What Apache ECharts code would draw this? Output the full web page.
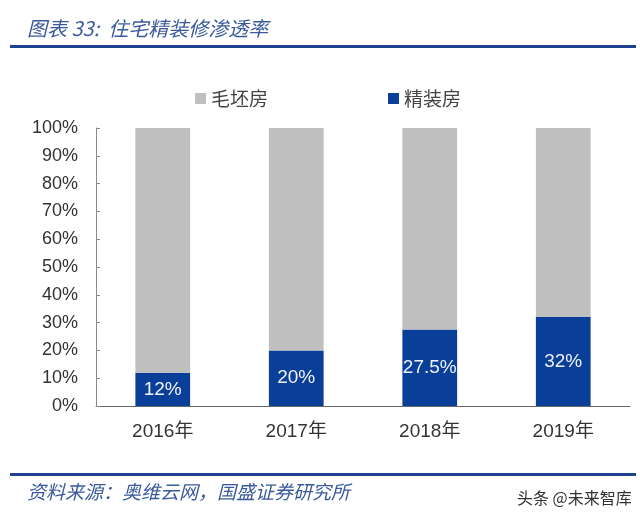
<!DOCTYPE html>
<html><head><meta charset="utf-8">
<script src="https://cdn.jsdelivr.net/npm/echarts@6/dist/echarts.min.js"></script>
<style>html,body{margin:0;padding:0;background:#fff}#c{width:640px;height:515px}</style>
</head><body><div id="c"></div>
<script>
var categories = ['2016年','2017年','2018年','2019年'];
var finished = [12, 20, 27.5, 32];
var rough = [88, 80, 72.5, 68];
var finishedLabels = ['12%','20%','27.5%','32%'];
var yTicks = [0,10,20,30,40,50,60,70,80,90,100];

var cjk = '"Noto Sans CJK SC", sans-serif';
var chart = echarts.init(document.getElementById('c'));
chart.setOption({
  animation: false,
  backgroundColor: '#fff',
  title: [{
    text: '图表 33:  住宅精装修渗透率', left: 22, top: 13,
    textStyle: {fontFamily: cjk, fontStyle: 'italic', fontWeight: 'normal', fontSize: 20, color: '#3a5a9c'}
  }, {
    text: '资料来源：奥维云网，国盛证券研究所', left: 22, top: 477,
    textStyle: {fontFamily: cjk, fontStyle: 'italic', fontWeight: 'normal', fontSize: 19, color: '#3a5a9c'}
  }, {
    text: '头条 @未来智库', left: 512, top: 485,
    textStyle: {fontFamily: cjk, fontWeight: 'normal', fontSize: 16, color: '#333'}
  }],
  graphic: [
    {type: 'rect', shape: {x: 10, y: 45, width: 626, height: 3}, style: {fill: '#1f4190'}},
    {type: 'rect', shape: {x: 10, y: 473, width: 626, height: 3}, style: {fill: '#1f4190'}}
  ],
  legend: {
    data: ['毛坯房','精装房'], top: 84, left: 190, itemGap: 120,
    itemWidth: 11, itemHeight: 11, icon: 'rect',
    textStyle: {fontFamily: cjk, fontSize: 19, color: '#444'}
  },
  grid: {left: 96, right: 10, top: 128, bottom: 109},
  xAxis: {
    type: 'category', data: categories,
    axisLine: {lineStyle: {color: '#666', width: 1}},
    axisTick: {inside: true, length: 5, lineStyle: {color: '#666'}},
    axisLabel: {fontFamily: '"Liberation Sans", ' + cjk, fontSize: 19, color: '#333', margin: 16}
  },
  yAxis: {
    type: 'value', min: 0, max: 100, interval: 10,
    axisLine: {show: true, lineStyle: {color: '#888'}},
    axisTick: {show: true, inside: true, length: 4, lineStyle: {color: '#888'}},
    splitLine: {show: false},
    axisLabel: {fontFamily: '"Liberation Sans", sans-serif', fontSize: 18, color: '#333', margin: 18,
      formatter: function (v) { return yTicks.indexOf(v) >= 0 ? v + '%' : ''; }}
  },
  series: [{
    name: '精装房', type: 'bar', stack: 'a', data: finished, barWidth: '41%',
    itemStyle: {color: '#0a3f99'},
    label: {show: true, position: 'inside', fontFamily: '"Liberation Sans", sans-serif', fontSize: 19, color: '#eef1f8',
      formatter: function (p) { return finishedLabels[p.dataIndex]; }}
  }, {
    name: '毛坯房', type: 'bar', stack: 'a', data: rough, barWidth: '41%',
    itemStyle: {color: '#bfbfbf'}
  }]
});
</script></body></html>
